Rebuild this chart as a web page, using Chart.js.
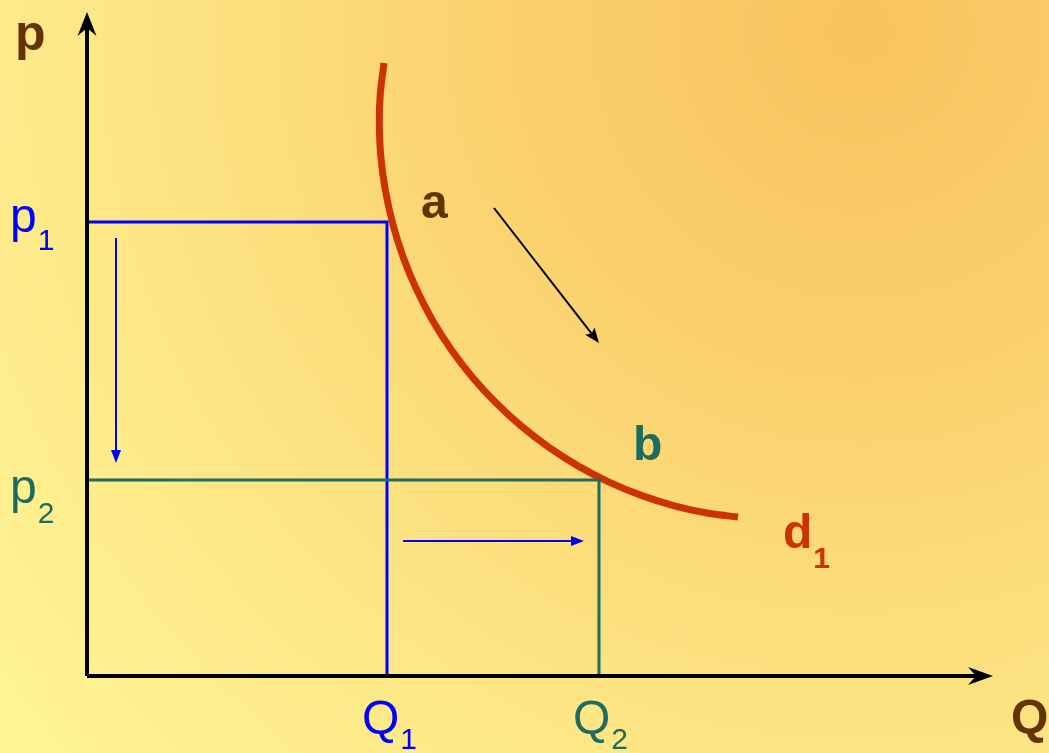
<!DOCTYPE html>
<html>
<head>
<meta charset="utf-8">
<script src="https://cdn.jsdelivr.net/npm/chart.js@4"></script>
<style>
  html, body { margin: 0; padding: 0; background: #fde886; }
  #wrap { width: 1049px; height: 753px; }
</style>
</head>
<body>
<div id="wrap"><canvas id="demandChart" width="1049" height="753"></canvas></div>
<script>
// demand curve d1 (quantity, price)
const curveQ = [29.70, 29.33, 29.23, 29.38, 29.84, 30.59, 31.63, 32.96, 34.56, 36.43, 38.54, 40.89, 43.45, 46.20, 49.13, 52.21, 55.42, 58.73, 62.12, 65.10];
const curveP = [61.30, 58.24, 55.46, 51.99, 48.55, 45.16, 41.85, 38.64, 35.56, 32.63, 29.88, 27.32, 24.97, 22.86, 20.99, 19.39, 18.06, 17.02, 16.27, 15.90];

// price levels p1, p2 and quantities Q1, Q2
const priceLevels = [45.4, 19.6];
const quantityLevels = [30.0, 51.2];

// axis ends
const axisQmax = 90.6;
const axisPmax = 66.4;

// movement arrows [start, end] in (Q, p)
const priceDropArrow = [[2.9, 43.8], [2.9, 21.3]];
const qtyRiseArrow = [[31.6, 13.5], [49.7, 13.5]];
const moveArrow = [[40.7, 46.8], [51.2, 33.3]];

const BLUE = "#0000ff";
const TEAL = "#1e6b60";
const BROWN = "#663300";
const RED = "#cc3300";
const FONT = "'Liberation Sans', Arial, sans-serif";

const background = {
  id: "background",
  beforeDraw(chart) {
    const ctx = chart.ctx;
    const g = ctx.createRadialGradient(860, 30, 0, 860, 30, 1120);
    g.addColorStop(0, "#f8c35e");
    g.addColorStop(0.3, "#fad06c");
    g.addColorStop(0.65, "#fde584");
    g.addColorStop(1, "#fff697");
    ctx.save();
    ctx.fillStyle = g;
    ctx.fillRect(0, 0, chart.width, chart.height);
    ctx.restore();
  }
};

function arrowHead(ctx, x0, y0, x1, y1, len, half, notch) {
  const a = Math.atan2(y1 - y0, x1 - x0);
  const c = Math.cos(a), s = Math.sin(a);
  ctx.beginPath();
  ctx.moveTo(x1, y1);
  ctx.lineTo(x1 - len * c - half * s, y1 - len * s + half * c);
  ctx.lineTo(x1 - (len - notch) * c, y1 - (len - notch) * s);
  ctx.lineTo(x1 - len * c + half * s, y1 - len * s - half * c);
  ctx.closePath();
  ctx.fill();
}

function drawArrow(ctx, xs, ys, pts, color, width, len, half, notch) {
  const x0 = xs.getPixelForValue(pts[0][0]), y0 = ys.getPixelForValue(pts[0][1]);
  const x1 = xs.getPixelForValue(pts[1][0]), y1 = ys.getPixelForValue(pts[1][1]);
  const a = Math.atan2(y1 - y0, x1 - x0);
  ctx.strokeStyle = color;
  ctx.fillStyle = color;
  ctx.lineWidth = width;
  ctx.beginPath();
  ctx.moveTo(x0, y0);
  ctx.lineTo(x1 - (len - notch) * Math.cos(a), y1 - (len - notch) * Math.sin(a));
  ctx.stroke();
  arrowHead(ctx, x0, y0, x1, y1, len, half, notch);
}

// text labels: [main, sub, q, p, color, bold, main size, sub size, sub dx, sub dy]
const labels = [
  ["p", "", -7.2, 62.6, BROWN, true, 50, 0, 0, 0],
  ["Q", "", 92.4, -5.7, BROWN, true, 48, 0, 0, 0],
  ["p", "1", -7.7, 44.4, BLUE, false, 48, 30, 1, 18],
  ["p", "2", -7.7, 17.3, TEAL, false, 48, 30, 1, 20],
  ["Q", "1", 27.5, -5.8, BLUE, false, 48, 30, 1, 15],
  ["Q", "2", 48.6, -5.8, TEAL, false, 48, 30, 1, 15],
  ["a", "", 33.4, 45.8, BROWN, true, 48, 0, 0, 0],
  ["b", "", 54.6, 21.6, TEAL, true, 48, 0, 0, 0],
  ["d", "1", 69.6, 12.8, RED, true, 48, 30, 1, 20]
];

const overlay = {
  id: "overlay",
  afterDatasetsDraw(chart) {
    const ctx = chart.ctx;
    const xs = chart.scales.x, ys = chart.scales.y;
    ctx.save();
    ctx.lineCap = "butt";

    // axes with arrow heads
    drawArrow(ctx, xs, ys, [[0, 0], [0, axisPmax]], "#000", 4, 24, 9.5, 8);
    drawArrow(ctx, xs, ys, [[0, 0], [axisQmax, 0]], "#000", 4, 25, 9, 8);

    // movement arrows
    drawArrow(ctx, xs, ys, priceDropArrow, BLUE, 2, 13, 5, 0);
    drawArrow(ctx, xs, ys, qtyRiseArrow, BLUE, 2, 13, 5, 0);
    drawArrow(ctx, xs, ys, moveArrow, "#000", 2, 15, 6, 3);

    // labels
    ctx.textBaseline = "alphabetic";
    ctx.textAlign = "left";
    labels.forEach(([main, sub, q, p, color, bold, size, subSize, dx, dy]) => {
      const x = xs.getPixelForValue(q), y = ys.getPixelForValue(p);
      ctx.fillStyle = color;
      ctx.font = (bold ? "bold " : "") + size + "px " + FONT;
      ctx.fillText(main, x, y);
      if (sub) {
        const w = ctx.measureText(main).width;
        ctx.font = (bold ? "bold " : "") + subSize + "px " + FONT;
        ctx.fillText(sub, x + w + dx, y + dy);
      }
    });
    ctx.restore();
  }
};

const ctx = document.getElementById("demandChart").getContext("2d");

new Chart(ctx, {
  type: "scatter",
  data: {
    datasets: [
      {
        label: "p2 / Q2",
        data: [
          { x: 0, y: priceLevels[1] },
          { x: quantityLevels[1], y: priceLevels[1] },
          { x: quantityLevels[1], y: 0 }
        ],
        showLine: true,
        borderColor: TEAL,
        borderWidth: 3,
        pointRadius: 0,
        tension: 0,
        clip: false
      },
      {
        label: "p1 / Q1",
        data: [
          { x: 0, y: priceLevels[0] },
          { x: quantityLevels[0], y: priceLevels[0] },
          { x: quantityLevels[0], y: 0 }
        ],
        showLine: true,
        borderColor: BLUE,
        borderWidth: 3,
        pointRadius: 0,
        tension: 0,
        clip: false
      },
      {
        label: "d1",
        data: curveQ.map((q, i) => ({ x: q, y: curveP[i] })),
        showLine: true,
        borderColor: RED,
        borderWidth: 7,
        pointRadius: 0,
        tension: 0.33,
        clip: false
      }
    ]
  },
  options: {
    responsive: false,
    animation: false,
    layout: { padding: { left: 87, right: 0, top: 0, bottom: 77 } },
    plugins: {
      legend: { display: false },
      tooltip: { enabled: false },
      title: { display: false }
    },
    scales: {
      x: { type: "linear", min: 0, max: 96.2, display: false },
      y: { type: "linear", min: 0, max: 67.6, display: false }
    }
  },
  plugins: [background, overlay]
});
</script>
</body>
</html>
